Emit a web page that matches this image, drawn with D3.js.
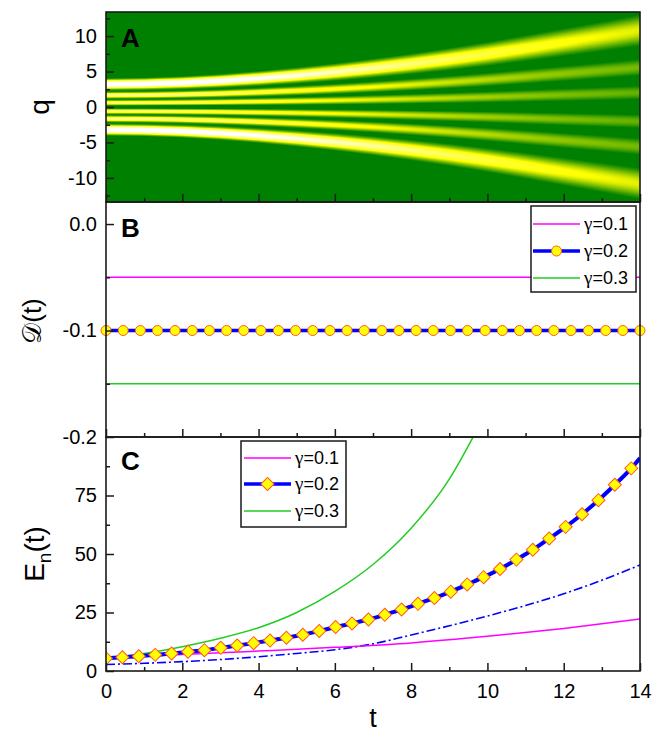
<!DOCTYPE html>
<html>
<head>
<meta charset="utf-8">
<script src="https://cdn.jsdelivr.net/npm/d3@7"></script>
<style>
  body { margin: 0; background: #fff; }
  svg text { font-family: "Liberation Sans", Arial, sans-serif; fill: #000; }
</style>
</head>
<body>
<div id="chart"></div>
<script>
// SVG area
var svgWidth = 653;
var svgHeight = 734;

// plot area shared by the three panels
var margin = { top: 12, right: 13, bottom: 63, left: 106 };
var width = svgWidth - margin.left - margin.right;

var panelA = { top: 12, bottom: 202 };
var panelB = { top: 202, bottom: 437 };
var panelC = { top: 437, bottom: 671 };

// ---- data ----
// panel A: bright lobes of the density at t = 0 and how much the pattern has spread later on
var lobeQ = [-3.2, -1.65, -0.6, 0.6, 1.65, 3.2];
var lobeWidth = [0.6, 0.38, 0.33, 0.33, 0.38, 0.6];
var lobePeak = [1.15, 0.75, 0.7, 0.7, 0.75, 1.15];
var spreadT = [0, 1, 2, 3, 4, 5, 6, 7, 8, 9, 10, 11, 12, 13, 14];
var spreadFactor = [1.0, 1.02, 1.07, 1.15, 1.26, 1.39, 1.54, 1.71, 1.9, 2.11, 2.34, 2.59, 2.85, 3.11, 3.38];

// panel B
var gammaValues = ["0.1", "0.2", "0.3"];
var dValues = [-0.05, -0.1, -0.15];
var circleT = [0, 0.45, 0.90, 1.35, 1.81, 2.26, 2.71, 3.16, 3.61, 4.06, 4.52, 4.97, 5.42, 5.87, 6.32, 6.77,
  7.23, 7.68, 8.13, 8.58, 9.03, 9.48, 9.94, 10.39, 10.84, 11.29, 11.74, 12.19, 12.65, 13.10, 13.55, 14];

// panel C
var magentaT = [0, 2, 4, 6, 8, 10, 12, 14];
var magentaE = [5.4, 7.0, 8.5, 10.1, 12.0, 14.8, 18.2, 22.2];
var greenT = [0, 1, 2, 3, 4, 5, 6, 7, 8, 9, 9.7];
var greenE = [5.4, 7.5, 10.4, 14, 18.5, 25, 34, 45.5, 61, 82, 102.3];
var diamondT = [0, 0.43, 0.86, 1.29, 1.72, 2.15, 2.58, 3.01, 3.44, 3.87, 4.30, 4.73, 5.16, 5.59, 6.02, 6.45,
  6.88, 7.31, 7.75, 8.18, 8.61, 9.04, 9.47, 9.90, 10.33, 10.76, 11.19, 11.62, 12.05, 12.48, 12.91, 13.34, 13.77];
var diamondE = [5.4, 5.9, 6.3, 6.9, 7.5, 8.2, 8.9, 9.9, 10.9, 11.9, 13.0, 14.2, 15.5, 17.1, 18.8, 20.3,
  22.0, 24.0, 26.3, 28.7, 31.2, 33.9, 37.0, 40.1, 43.6, 47.6, 51.8, 56.6, 61.6, 67.0, 73.0, 79.6, 86.6];
var blueEndT = 14, blueEndE = 91;
var dashT = [0, 1, 2, 3, 4, 5, 6, 7, 8, 9, 10, 11, 12, 13, 14];
var dashE = [2.8, 3.3, 4.0, 4.9, 6.1, 7.5, 9.1, 11.6, 15.4, 19.3, 23.5, 28.0, 33.0, 38.8, 45.3];

var tMajor = [0, 2, 4, 6, 8, 10, 12, 14];
var tMinor = [1, 3, 5, 7, 9, 11, 13];

var svg = d3.select("#chart").append("svg")
  .attr("width", svgWidth)
  .attr("height", svgHeight);

// scales
var x = d3.scaleLinear().domain([0, 14]).range([margin.left, margin.left + width]);
var yA = d3.scaleLinear().domain([-13.4, 13.4]).range([panelA.bottom, panelA.top]);
var yB = d3.scaleLinear().domain([-0.2, 0.0207]).range([panelB.bottom, panelB.top]);
var yC = d3.scaleLinear().domain([0, 100]).range([panelC.bottom, panelC.top]);

// ---------- panel A heatmap (drawn into a canvas, placed as an image) ----------
var hA = panelA.bottom - panelA.top;
var canvas = document.createElement("canvas");
canvas.width = width;
canvas.height = hA;
var ctx = canvas.getContext("2d");
var img = ctx.createImageData(width, hA);
var spread = d3.scaleLinear().domain(spreadT).range(spreadFactor);
var color = d3.scaleLinear().domain([0.14, 0.5, 0.95])
  .range(["#008000", "#ffff00", "#ffffff"]).clamp(true);
// lookup table for the colour map
var lut = d3.range(256).map(function (k) { return d3.rgb(color(k / 255 * 1.2)); });

for (var i = 0; i < width; i++) {
  var t = x.invert(margin.left + i + 0.5);
  var s = spread(t);
  var norm = Math.pow(s, 0.75);
  for (var j = 0; j < hA; j++) {
    var q = yA.invert(panelA.top + j + 0.5);
    var v = 0;
    for (var k = 0; k < lobeQ.length; k++) {
      var d = (q - s * lobeQ[k]) / (s * lobeWidth[k]);
      v += lobePeak[k] * Math.exp(-d * d);
    }
    v = v / norm;
    var c = lut[Math.max(0, Math.min(255, Math.round(v / 1.2 * 255)))];
    var p = (j * width + i) * 4;
    img.data[p] = c.r; img.data[p + 1] = c.g; img.data[p + 2] = c.b; img.data[p + 3] = 255;
  }
}
ctx.putImageData(img, 0, 0);

svg.append("image")
  .attr("x", margin.left).attr("y", panelA.top)
  .attr("width", width).attr("height", hA)
  .attr("preserveAspectRatio", "none")
  .attr("href", canvas.toDataURL());

// clip for panel C curves
svg.append("clipPath").attr("id", "clipC")
  .append("rect")
  .attr("x", margin.left).attr("y", panelC.top)
  .attr("width", width).attr("height", panelC.bottom - panelC.top);

// ---------- panel B ----------
var bColors = ["#ff00ff", "#0000ff", "#22cc22"];
var bWidths = [1.5, 3.5, 1.5];

dValues.forEach(function (v, idx) {
  svg.append("line")
    .attr("x1", x(0)).attr("x2", x(14))
    .attr("y1", yB(v)).attr("y2", yB(v))
    .attr("stroke", bColors[idx])
    .attr("stroke-width", bWidths[idx]);
});

svg.append("g").selectAll("circle")
  .data(circleT)
  .enter()
  .append("circle")
  .attr("cx", d => x(d))
  .attr("cy", yB(dValues[1]))
  .attr("r", 5)
  .attr("fill", "#ffff00")
  .attr("stroke", "#ff5a1e")
  .attr("stroke-width", 1);

// ---------- panel C ----------
var lineC = d3.line().x(d => x(d[0])).y(d => yC(d[1])).curve(d3.curveMonotoneX);
var curvesC = svg.append("g").attr("clip-path", "url(#clipC)");

curvesC.append("path")
  .datum(dashT.map((t, n) => [t, dashE[n]]))
  .attr("d", lineC)
  .attr("fill", "none")
  .attr("stroke", "#0000ff")
  .attr("stroke-width", 1.6)
  .attr("stroke-dasharray", "9,3,2,3");

curvesC.append("path")
  .datum(magentaT.map((t, n) => [t, magentaE[n]]))
  .attr("d", lineC)
  .attr("fill", "none")
  .attr("stroke", "#ff00ff")
  .attr("stroke-width", 1.5);

curvesC.append("path")
  .datum(greenT.map((t, n) => [t, greenE[n]]))
  .attr("d", lineC)
  .attr("fill", "none")
  .attr("stroke", "#22cc22")
  .attr("stroke-width", 1.5);

var bluePts = diamondT.map((t, n) => [t, diamondE[n]]).concat([[blueEndT, blueEndE]]);
curvesC.append("path")
  .datum(bluePts)
  .attr("d", lineC)
  .attr("fill", "none")
  .attr("stroke", "#0000ff")
  .attr("stroke-width", 4);

var diamond = d3.symbol().type(d3.symbolSquare).size(85);
curvesC.append("g").selectAll("path")
  .data(diamondT.map((t, n) => [t, diamondE[n]]))
  .enter()
  .append("path")
  .attr("d", diamond)
  .attr("transform", d => `translate(${x(d[0])},${yC(d[1])}) rotate(45)`)
  .attr("fill", "#ffff00")
  .attr("stroke", "#ff5a1e")
  .attr("stroke-width", 1);

// ---------- frames and axes ----------
[panelA, panelB, panelC].forEach(function (p) {
  svg.append("rect")
    .attr("x", margin.left).attr("y", p.top)
    .attr("width", width).attr("height", p.bottom - p.top)
    .attr("fill", "none")
    .attr("stroke", "#1a1a1a")
    .attr("stroke-width", 1.6);
});

function styleAxis(g) {
  g.select(".domain").remove();
  g.selectAll("line").attr("stroke", "#1a1a1a").attr("stroke-width", 1.5);
  g.selectAll("text")
    .attr("font-size", 20)
    .attr("font-family", '"Liberation Sans", Arial, sans-serif')
    .attr("fill", "#000");
}

function addYAxis(scale, major, minor, fmt) {
  svg.append("g")
    .attr("transform", `translate(${margin.left},0)`)
    .call(d3.axisLeft(scale).tickValues(minor).tickSize(-4).tickFormat(""))
    .call(styleAxis);
  svg.append("g")
    .attr("transform", `translate(${margin.left},0)`)
    .call(d3.axisLeft(scale).tickValues(major).tickSize(-8).tickPadding(9).tickFormat(fmt))
    .call(styleAxis);
}

function addXAxis(yPos, labelled) {
  svg.append("g")
    .attr("transform", `translate(0,${yPos})`)
    .call(d3.axisBottom(x).tickValues(tMinor).tickSize(-4).tickFormat(""))
    .call(styleAxis);
  svg.append("g")
    .attr("transform", `translate(0,${yPos})`)
    .call(d3.axisBottom(x).tickValues(tMajor).tickSize(-8).tickPadding(12.5)
      .tickFormat(labelled ? (d => String(d)) : ""))
    .call(styleAxis);
}

addYAxis(yA, [-10, -5, 0, 5, 10], [-12.5, -7.5, -2.5, 2.5, 7.5, 12.5], d => String(d));
addYAxis(yB, [-0.2, -0.1, 0], [-0.15, -0.05], d => d.toFixed(1));
addYAxis(yC, [0, 25, 50, 75], [12.5, 37.5, 62.5, 87.5], d => String(d));

addXAxis(panelA.bottom, false);
addXAxis(panelB.bottom, false);
addXAxis(panelC.bottom, true);

// panel letters
[["A", 47], ["B", 237], ["C", 470]].forEach(function (l) {
  svg.append("text")
    .attr("x", 121).attr("y", l[1])
    .attr("font-size", 26)
    .attr("font-weight", "bold")
    .text(l[0]);
});

// axis titles
svg.append("text")
  .attr("transform", "translate(49,107) rotate(-90)")
  .attr("text-anchor", "middle")
  .attr("font-size", 28)
  .text("q");

svg.append("text")
  .attr("transform", "translate(41,321) rotate(-90)")
  .attr("text-anchor", "middle")
  .attr("font-size", 26)
  .text("𝒟(t)");

var eTitle = svg.append("text")
  .attr("transform", "translate(44,554) rotate(-90)")
  .attr("text-anchor", "middle")
  .attr("font-size", 28);
eTitle.append("tspan").text("E");
eTitle.append("tspan").attr("font-size", 19).attr("dy", 7).text("n");
eTitle.append("tspan").attr("dy", -7).text("(t)");

svg.append("text")
  .attr("x", x(7)).attr("y", 727)
  .attr("text-anchor", "middle")
  .attr("font-size", 27)
  .text("t");

// ---------- legends ----------
function addLegend(box, rowY, lineX, textX, marker) {
  svg.append("rect")
    .attr("x", box[0]).attr("y", box[1])
    .attr("width", box[2]).attr("height", box[3])
    .attr("fill", "#fff")
    .attr("stroke", "#1a1a1a")
    .attr("stroke-width", 1.5);
  var cols = ["#ff00ff", "#0000ff", "#22cc22"];
  var widths = [1.5, 3.5, 1.5];
  gammaValues.forEach(function (val, idx) {
    svg.append("line")
      .attr("x1", lineX[0]).attr("x2", lineX[1])
      .attr("y1", rowY[idx]).attr("y2", rowY[idx])
      .attr("stroke", cols[idx])
      .attr("stroke-width", widths[idx]);
    var lab = svg.append("text")
      .attr("x", textX).attr("y", rowY[idx])
      .attr("dy", "0.36em")
      .attr("font-size", 18);
    lab.append("tspan")
      .style("font-family", '"Liberation Serif", "Times New Roman", serif')
      .attr("font-size", 19)
      .text("γ");
    lab.append("tspan").text("=" + val);
  });
  var mx = (lineX[0] + lineX[1]) / 2;
  if (marker == "circle") {
    svg.append("circle")
      .attr("cx", mx).attr("cy", rowY[1]).attr("r", 5)
      .attr("fill", "#ffff00").attr("stroke", "#ff5a1e");
  } else {
    svg.append("path")
      .attr("d", diamond)
      .attr("transform", `translate(${mx},${rowY[1]}) rotate(45)`)
      .attr("fill", "#ffff00").attr("stroke", "#ff5a1e");
  }
}

addLegend([531, 206, 105, 86], [224, 251, 278], [533, 580], 584, "circle");
addLegend([241, 441, 105, 86], [458, 484, 511], [244, 291], 295, "diamond");
</script>
</body>
</html>
